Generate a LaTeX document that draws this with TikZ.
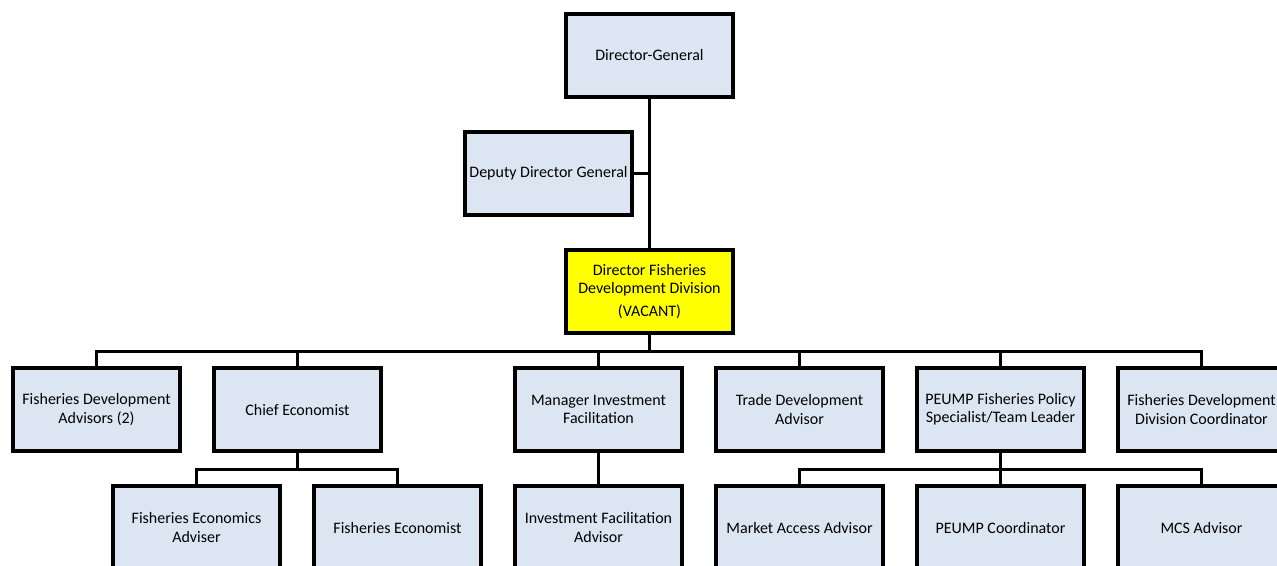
\documentclass[tikz,border=0pt]{standalone}
\usepackage{fontspec}
\setmainfont{Carlito}
\usepackage{tikz}

\definecolor{boxblue}{HTML}{DCE6F2}
\definecolor{vacant}{HTML}{FFFF00}

\tikzset{
    post/.style={draw,line width=1.8pt,fill=boxblue,minimum width=3.34cm,minimum height=1.66cm,
        inner sep=1pt,align=center,font=\fontsize{9.1}{10.4}\selectfont},
    link/.style={line width=1.8pt}
}

\begin{document}
\begin{tikzpicture}[x=0.02cm,y=-0.02cm]
    \useasboundingbox (0,0) rectangle (1277,565);
    \clip (0,0) rectangle (1277,565);

    % Top of the chart
    \node[post] (dg) at (649.5,55.5) {Director-General};
    \node[post] (ddg) at (548.5,173.5) {Deputy Director General};
    \node[post,fill=vacant] (fdd) at (649.5,291.5) {Director Fisheries\\Development Division\\[3pt](VACANT)};

    % Second level
    \node[post] (fda) at (96.5,409.5) {Fisheries Development\\Advisors (2)};
    \node[post] (ce) at (297.5,409.5) {Chief Economist};
    \node[post] (mif) at (598.5,409.5) {Manager Investment\\Facilitation};
    \node[post] (tda) at (799.5,409.5) {Trade Development\\Advisor};
    \node[post] (pfp) at (1000.5,409.5) {PEUMP Fisheries Policy\\Specialist/Team Leader};
    \node[post] (fddc) at (1201.5,409.5) {Fisheries Development\\Division Coordinator};

    % Third level
    \node[post] (fea) at (196.5,527.5) {Fisheries Economics\\Adviser};
    \node[post] (fe) at (397.5,527.5) {Fisheries Economist};
    \node[post] (ifa) at (598.5,527.5) {Investment Facilitation\\Advisor};
    \node[post] (maa) at (799.5,527.5) {Market Access Advisor};
    \node[post] (pc) at (1000.5,527.5) {PEUMP Coordinator};
    \node[post] (mcs) at (1201.5,527.5) {MCS Advisor};

    % Connectors
    \draw[link] (dg) -- (fdd);
    \draw[link] (ddg.east) -- (ddg.east -| dg.south);
    \foreach \c in {fda,ce,mif,tda,pfp,fddc}
        \draw[link] (fdd.south) -- ++(0,17) -| (\c.north);
    \foreach \c in {fea,fe}
        \draw[link] (ce.south) -- ++(0,17) -| (\c.north);
    \draw[link] (mif) -- (ifa);
    \foreach \c in {maa,pc,mcs}
        \draw[link] (pfp.south) -- ++(0,17) -| (\c.north);
\end{tikzpicture}
\end{document}
